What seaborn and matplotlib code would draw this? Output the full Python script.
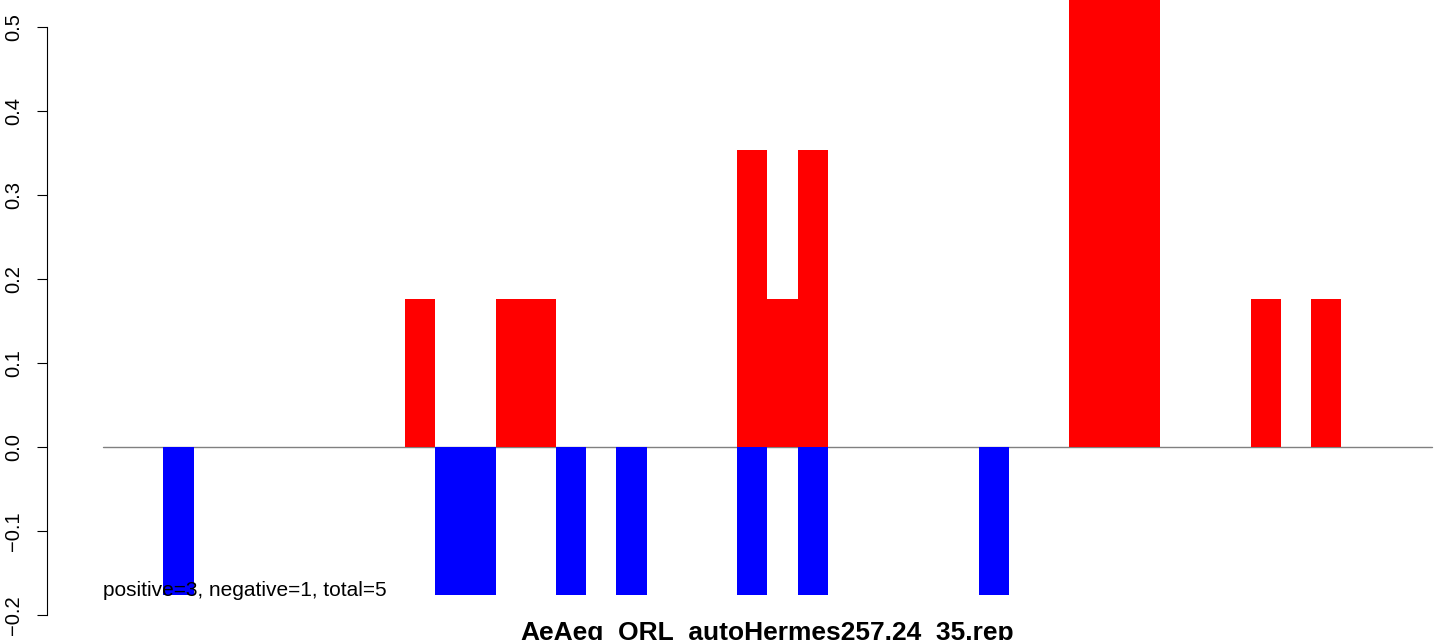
import numpy as np
import pandas as pd
import matplotlib
matplotlib.use("Agg")
import matplotlib.pyplot as plt
import seaborn as sns

# slot-wise scores (44 slots)
n_slots = 44
pos_idx = [10, 13, 14, 21, 22, 23, 32, 33, 34, 38, 40]
pos_val = [0.176, 0.176, 0.176, 0.353, 0.176, 0.353, 0.706, 0.706, 0.706, 0.176, 0.176]
neg_idx = [2, 11, 12, 15, 17, 21, 23, 29]
neg_val = [-0.176] * 8

title = "AeAeg_ORL_autoHermes257.24_35.rep"
note = "positive=3, negative=1, total=5"
yticks = [-0.2, -0.1, 0.0, 0.1, 0.2, 0.3, 0.4, 0.5]

pos = np.zeros(n_slots)
pos[pos_idx] = pos_val
neg = np.zeros(n_slots)
neg[neg_idx] = neg_val
df = pd.DataFrame({"slot": np.arange(n_slots), "pos": pos, "neg": neg})

sns.set_style("white")
plt.rcParams["font.family"] = ["Liberation Sans", "DejaVu Sans"]
plt.rcParams["text.color"] = "black"

W, H = 1444, 640
fig = plt.figure(figsize=(W / 100, H / 100), dpi=100)
ax = fig.add_axes([47 / W, 0, 1 - 47 / W, 1])

sns.barplot(data=df, x="slot", y="pos", color="#ff0000", width=1, saturation=1,
            linewidth=0, ax=ax)
sns.barplot(data=df, x="slot", y="neg", color="#0000ff", width=1, saturation=1,
            linewidth=0, ax=ax)

ax.plot([-0.5, n_slots - 0.5], [0, 0], color="#808080", lw=1.0, zorder=0.5)

# map pixel layout: slot i center at 118.1 + 30.2*i px
sw = 30.2
ax.set_xlim((47 - 118.1) / sw, (W - 118.1) / sw)
ppu = 840.0
ax.set_ylim(-0.2 - 25 / ppu, 0.5 + 27 / ppu)

for s in ["top", "right", "bottom"]:
    ax.spines[s].set_visible(False)
ax.spines["left"].set_bounds(-0.2, 0.5)
ax.spines["left"].set_linewidth(0.8)
ax.spines["left"].set_color("black")
ax.set_xticks([])
ax.set_yticks(yticks)
ax.set_yticklabels([f"{v:.1f}".replace("-", "\u2212") for v in yticks],
                   rotation=90, va="center", fontsize=14.5, color="black")
ax.tick_params(axis="y", direction="out", length=7, width=0.8, pad=10,
               left=True, colors="black")
ax.set_xlabel("")
ax.set_ylabel("")

ax.text(-0.5, -0.171, note, fontsize=15, ha="left", va="center", zorder=5,
        color="black")
fig.text(767 / W, 0 / H, title, fontsize=19, fontweight="bold",
         ha="center", va="baseline", color="black")

fig.savefig("out.png", dpi=100)
